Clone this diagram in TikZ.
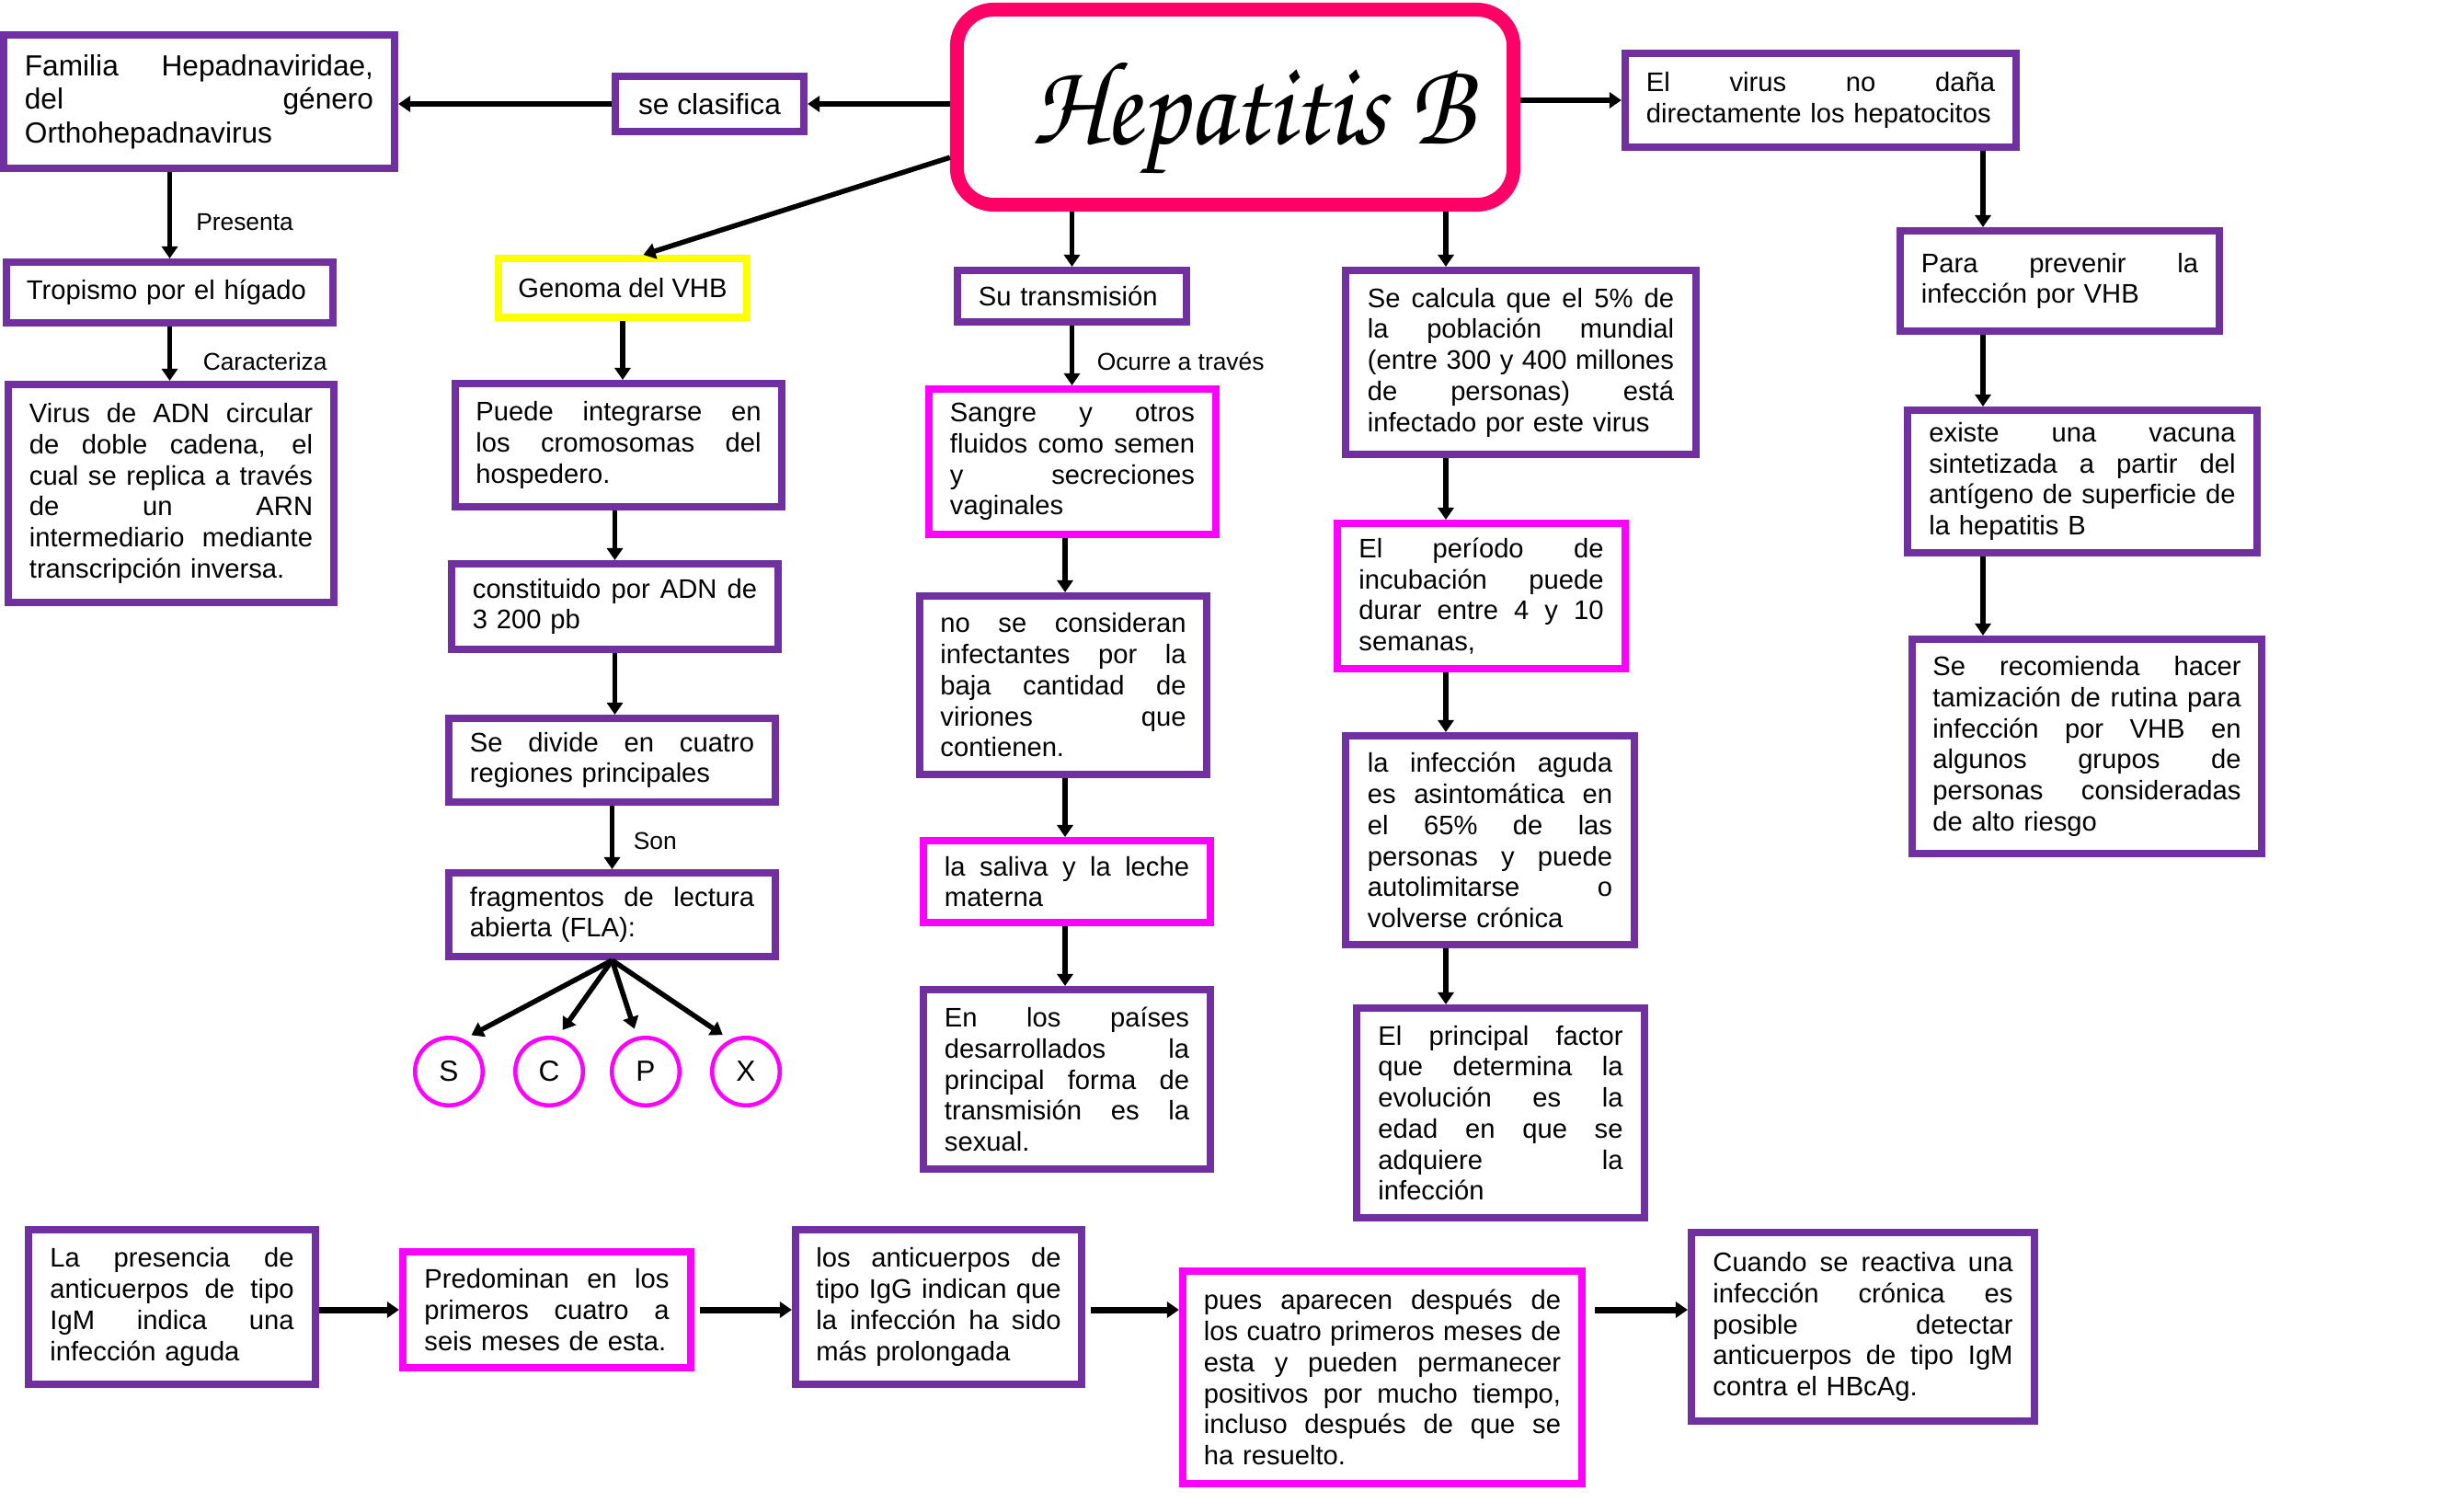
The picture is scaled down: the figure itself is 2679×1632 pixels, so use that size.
\documentclass[tikz,border=0pt]{standalone}
\usepackage{graphicx}
\usepackage{fontspec}
\setmainfont{Liberation Sans}
\newfontfamily\chorusfont{texgyrechorus-mediumitalic.otf}
\usetikzlibrary{arrows.meta}

\definecolor{morado}{HTML}{7030A0}
\definecolor{fucsia}{HTML}{FF00FF}
\definecolor{amarillo}{HTML}{FFFF00}
\definecolor{rosa}{HTML}{FF0066}

% linea justificada
\newcommand\anchocaja{3cm}
\newcommand\jl[1]{\makebox[\anchocaja][s]{\spaceskip=\fontdimen2\font plus 1fil\relax #1}\\}

\tikzset{
  caja/.style={draw=morado, line width=0.08cm, inner sep=0pt, align=left,
    font=\fontsize{8.3}{9.6}\selectfont},
  cajarosa/.style={caja, draw=fucsia},
  cajaamar/.style={caja, draw=amarillo},
  ancho/.style={text width=#1, execute at begin node={\def\anchocaja{#1}}},
  titulo/.style={draw=rosa, line width=0.15cm, rounded corners=0.4cm, inner sep=0pt,
    minimum width=6.05cm, minimum height=2.12cm},
  letra/.style={circle, draw=fucsia, line width=0.045cm, minimum size=0.735cm,
    inner sep=0pt, font=\fontsize{9}{10}\selectfont},
  flecha/.style={line width=0.055cm, -{Triangle[width=0.17cm,length=0.13cm]}},
  flechag/.style={flecha, line width=0.07cm},
  etiq/.style={font=\fontsize{7.5}{9}\selectfont, inner sep=0pt, anchor=west},
}

\begin{document}
\begin{tikzpicture}[x=0.01cm, y=-0.01cm]
    \useasboundingbox (0,0) rectangle (2679,1632);

    % centro
    \node[titulo] (hep) at (1343,116.5) {\hspace*{0.38cm}\raisebox{0pt}[\dimexpr\height+0.24cm][\depth]{\resizebox{4.8cm}{0.88cm}{\chorusfont Hepatitis B}}};

    % izquierda
    \node[caja, font=\fontsize{9}{10.4}\selectfont, minimum width=2.05cm, minimum height=0.60cm] (sec) at (771.5,113) {se clasifica};
    \node[caja, font=\fontsize{9}{10.4}\selectfont, minimum width=4.25cm, minimum height=1.45cm, ancho=3.79cm] (fam) at (216.5,110.5) {\jl{Familia Hepadnaviridae,}\jl{del género}Orthohepadnavirus};
    \node[caja, minimum width=3.55cm, minimum height=0.66cm, text width=3.11cm] (tro) at (184.5,318) {Tropismo por el hígado};
    \node[caja, minimum width=3.54cm, minimum height=2.37cm, ancho=3.08cm] (adn) at (186,536.5) {\jl{Virus de ADN circular}\jl{de doble cadena, el}\jl{cual se replica a través}\jl{de un ARN}\jl{intermediario mediante}transcripción inversa.};

    % genoma
    \node[cajaamar, minimum width=2.70cm, minimum height=0.64cm] (gen) at (677,313) {Genoma del VHB};
    \node[caja, minimum width=3.55cm, minimum height=1.34cm, ancho=3.10cm] (int) at (672.5,484) {\jl{Puede integrarse en}\jl{los cromosomas del}hospedero.};
    \node[caja, minimum width=3.55cm, minimum height=0.93cm, ancho=3.09cm] (cons) at (668.5,659.5) {\jl{constituido por ADN de}3 200 pb};
    \node[caja, minimum width=3.55cm, minimum height=0.91cm, ancho=3.09cm] (reg) at (665.5,826.5) {\jl{Se divide en cuatro}regiones principales};
    \node[caja, minimum width=3.55cm, minimum height=0.91cm, ancho=3.09cm] (fla) at (665.5,994.5) {\jl{fragmentos de lectura}abierta (FLA):};
    \node[letra] (orfs) at (488,1165) {S};
    \node[letra] (orfc) at (597,1165) {C};
    \node[letra] (orfp) at (702,1165) {P};
    \node[letra] (orfx) at (811,1165) {X};

    % transmision
    \node[caja, minimum width=2.49cm, minimum height=0.56cm, text width=2.03cm] (tra) at (1165.5,322) {Su transmisión};
    \node[cajarosa, minimum width=3.12cm, minimum height=1.58cm, ancho=2.66cm] (san) at (1166,502) {\jl{Sangre y otros}\jl{fluidos como semen}\jl{y secreciones}vaginales};
    \node[caja, minimum width=3.12cm, minimum height=1.94cm, ancho=2.67cm] (nos) at (1156,745) {\jl{no se consideran}\jl{infectantes por la}\jl{baja cantidad de}\jl{viriones que}contienen.};
    \node[cajarosa, minimum width=3.12cm, minimum height=0.89cm, ancho=2.66cm] (sal) at (1160,958.5) {\jl{la saliva y la leche}materna};
    \node[caja, minimum width=3.12cm, minimum height=1.95cm, ancho=2.66cm] (pai) at (1160,1173.5) {\jl{En los países}\jl{desarrollados la}\jl{principal forma de}\jl{transmisión es la}sexual.};

    % poblacion
    \node[caja, minimum width=3.81cm, minimum height=2.00cm, ancho=3.33cm] (pob) at (1653.5,394) {\jl{Se calcula que el 5\% de}\jl{la población mundial}\jl{(entre 300 y 400 millones}\jl{de personas) está}infectado por este virus};
    \node[cajarosa, minimum width=3.13cm, minimum height=1.58cm, ancho=2.66cm] (inc) at (1610.5,648) {\jl{El período de}\jl{incubación puede}\jl{durar entre 4 y 10}semanas,};
    \node[caja, minimum width=3.14cm, minimum height=2.27cm, ancho=2.66cm] (agu) at (1620,913.5) {\jl{la infección aguda}\jl{es asintomática en}\jl{el 65\% de las}\jl{personas y puede}\jl{autolimitarse o}volverse crónica};
    \node[caja, minimum width=3.13cm, minimum height=2.28cm, ancho=2.66cm] (fac) at (1631.5,1210) {\jl{El principal factor}\jl{que determina la}\jl{evolución es la}\jl{edad en que se}\jl{adquiere la}infección};

    % derecha
    \node[caja, minimum width=4.25cm, minimum height=1.02cm, ancho=3.79cm] (vir) at (1979.5,109) {\jl{El virus no daña}directamente los hepatocitos};
    \node[caja, minimum width=3.47cm, minimum height=1.09cm, ancho=3.01cm] (prev) at (2239.5,305.5) {\jl{Para prevenir la}infección por VHB};
    \node[caja, minimum width=3.80cm, minimum height=1.55cm, ancho=3.33cm] (vac) at (2264,523.5) {\jl{existe una vacuna}\jl{sintetizada a partir del}\jl{antígeno de superficie de}la hepatitis B};
    \node[caja, minimum width=3.80cm, minimum height=2.33cm, ancho=3.35cm] (rec) at (2269,811.5) {\jl{Se recomienda hacer}\jl{tamización de rutina para}\jl{infección por VHB en}\jl{algunos grupos de}\jl{personas consideradas}de alto riesgo};

    % fila de abajo
    \node[caja, minimum width=3.12cm, minimum height=1.68cm, ancho=2.65cm] (igm) at (187,1421) {\jl{La presencia de}\jl{anticuerpos de tipo}\jl{IgM indica una}infección aguda};
    \node[cajarosa, minimum width=3.13cm, minimum height=1.26cm, ancho=2.66cm] (pri) at (594.5,1424) {\jl{Predominan en los}\jl{primeros cuatro a}seis meses de esta.};
    \node[caja, minimum width=3.11cm, minimum height=1.68cm, ancho=2.66cm] (igg) at (1020.5,1421) {\jl{los anticuerpos de}\jl{tipo IgG indican que}\jl{la infección ha sido}más prolongada};
    \node[cajarosa, minimum width=4.34cm, minimum height=2.31cm, ancho=3.88cm] (apa) at (1503,1497.5) {\jl{pues aparecen después de}\jl{los cuatro primeros meses de}\jl{esta y pueden permanecer}\jl{positivos por mucho tiempo,}\jl{incluso después de que se}ha resuelto.};
    \node[caja, minimum width=3.73cm, minimum height=2.05cm, ancho=3.26cm] (cro) at (2025.5,1442.5) {\jl{Cuando se reactiva una}\jl{infección crónica es}\jl{posible detectar}\jl{anticuerpos de tipo IgM}contra el HBcAg.};

    \coordinate (colm) at (1158,0);
    \coordinate (colr) at (1572,0);
    \coordinate (colv) at (2156,0);
    \coordinate (filab) at (0,1424);

    % flechas
    \draw[flecha] (hep.west |- sec.east) -- (sec.east);
    \draw[flecha] (sec.west) -- (fam.east |- sec.west);
    \draw[flecha] (hep.190) -- (gen.58);
    \draw[flecha] (hep.east |- vir.west) -- (vir.west);
    \draw[flecha] (hep.south -| tra.north) -- (tra.north);
    \draw[flecha] (hep.south -| colr) -- (pob.north -| colr);

    \draw[flecha] (tro.north |- fam.south) -- node[etiq, pos=0.585, xshift=0.26cm] (lpre) {Presenta} (tro.north);
    \draw[flecha] (tro.south) -- node[etiq, pos=0.64, xshift=0.335cm] (lcar) {Caracteriza} (tro.south |- adn.north);

    \draw[flecha] (gen.south) -- (gen.south |- int.north);
    \draw[flecha] (cons.north |- int.south) -- (cons.north);
    \draw[flecha] (cons.south) -- (cons.south |- reg.north);
    \draw[flecha] (reg.south) -- node[etiq, pos=0.55, xshift=0.205cm] (lson) {Son} (reg.south |- fla.north);
    \foreach \orf/\ang in {orfs/65, orfc/76, orfp/104, orfx/117}
        \draw[flecha, shorten >=0.09cm] (fla.south) -- (\orf.\ang);

    \draw[flecha] (tra.south) -- node[etiq, pos=0.6, xshift=0.245cm] (locu) {Ocurre a través} (tra.south |- san.north);
    \draw[flecha] (san.south -| colm) -- (nos.north -| colm);
    \draw[flecha] (nos.south -| colm) -- (sal.north -| colm);
    \draw[flecha] (sal.south -| colm) -- (pai.north -| colm);

    \draw[flecha] (pob.south -| colr) -- (inc.north -| colr);
    \draw[flecha] (inc.south -| colr) -- (agu.north -| colr);
    \draw[flecha] (agu.south -| colr) -- (fac.north -| colr);

    \draw[flecha] (vir.south -| colv) -- (prev.north -| colv);
    \draw[flecha] (prev.south -| colv) -- (vac.north -| colv);
    \draw[flecha] (vac.south -| colv) -- (rec.north -| colv);

    \draw[flechag] (igm.east |- filab) -- (pri.west |- filab);
    \draw[flechag, shorten <=0.06cm] (pri.east |- filab) -- (igg.west |- filab);
    \draw[flechag, shorten <=0.06cm] (igg.east |- filab) -- (apa.west |- filab);
    \draw[flechag, shorten <=0.1cm] (apa.east |- filab) -- (cro.west |- filab);

\end{tikzpicture}
\end{document}
